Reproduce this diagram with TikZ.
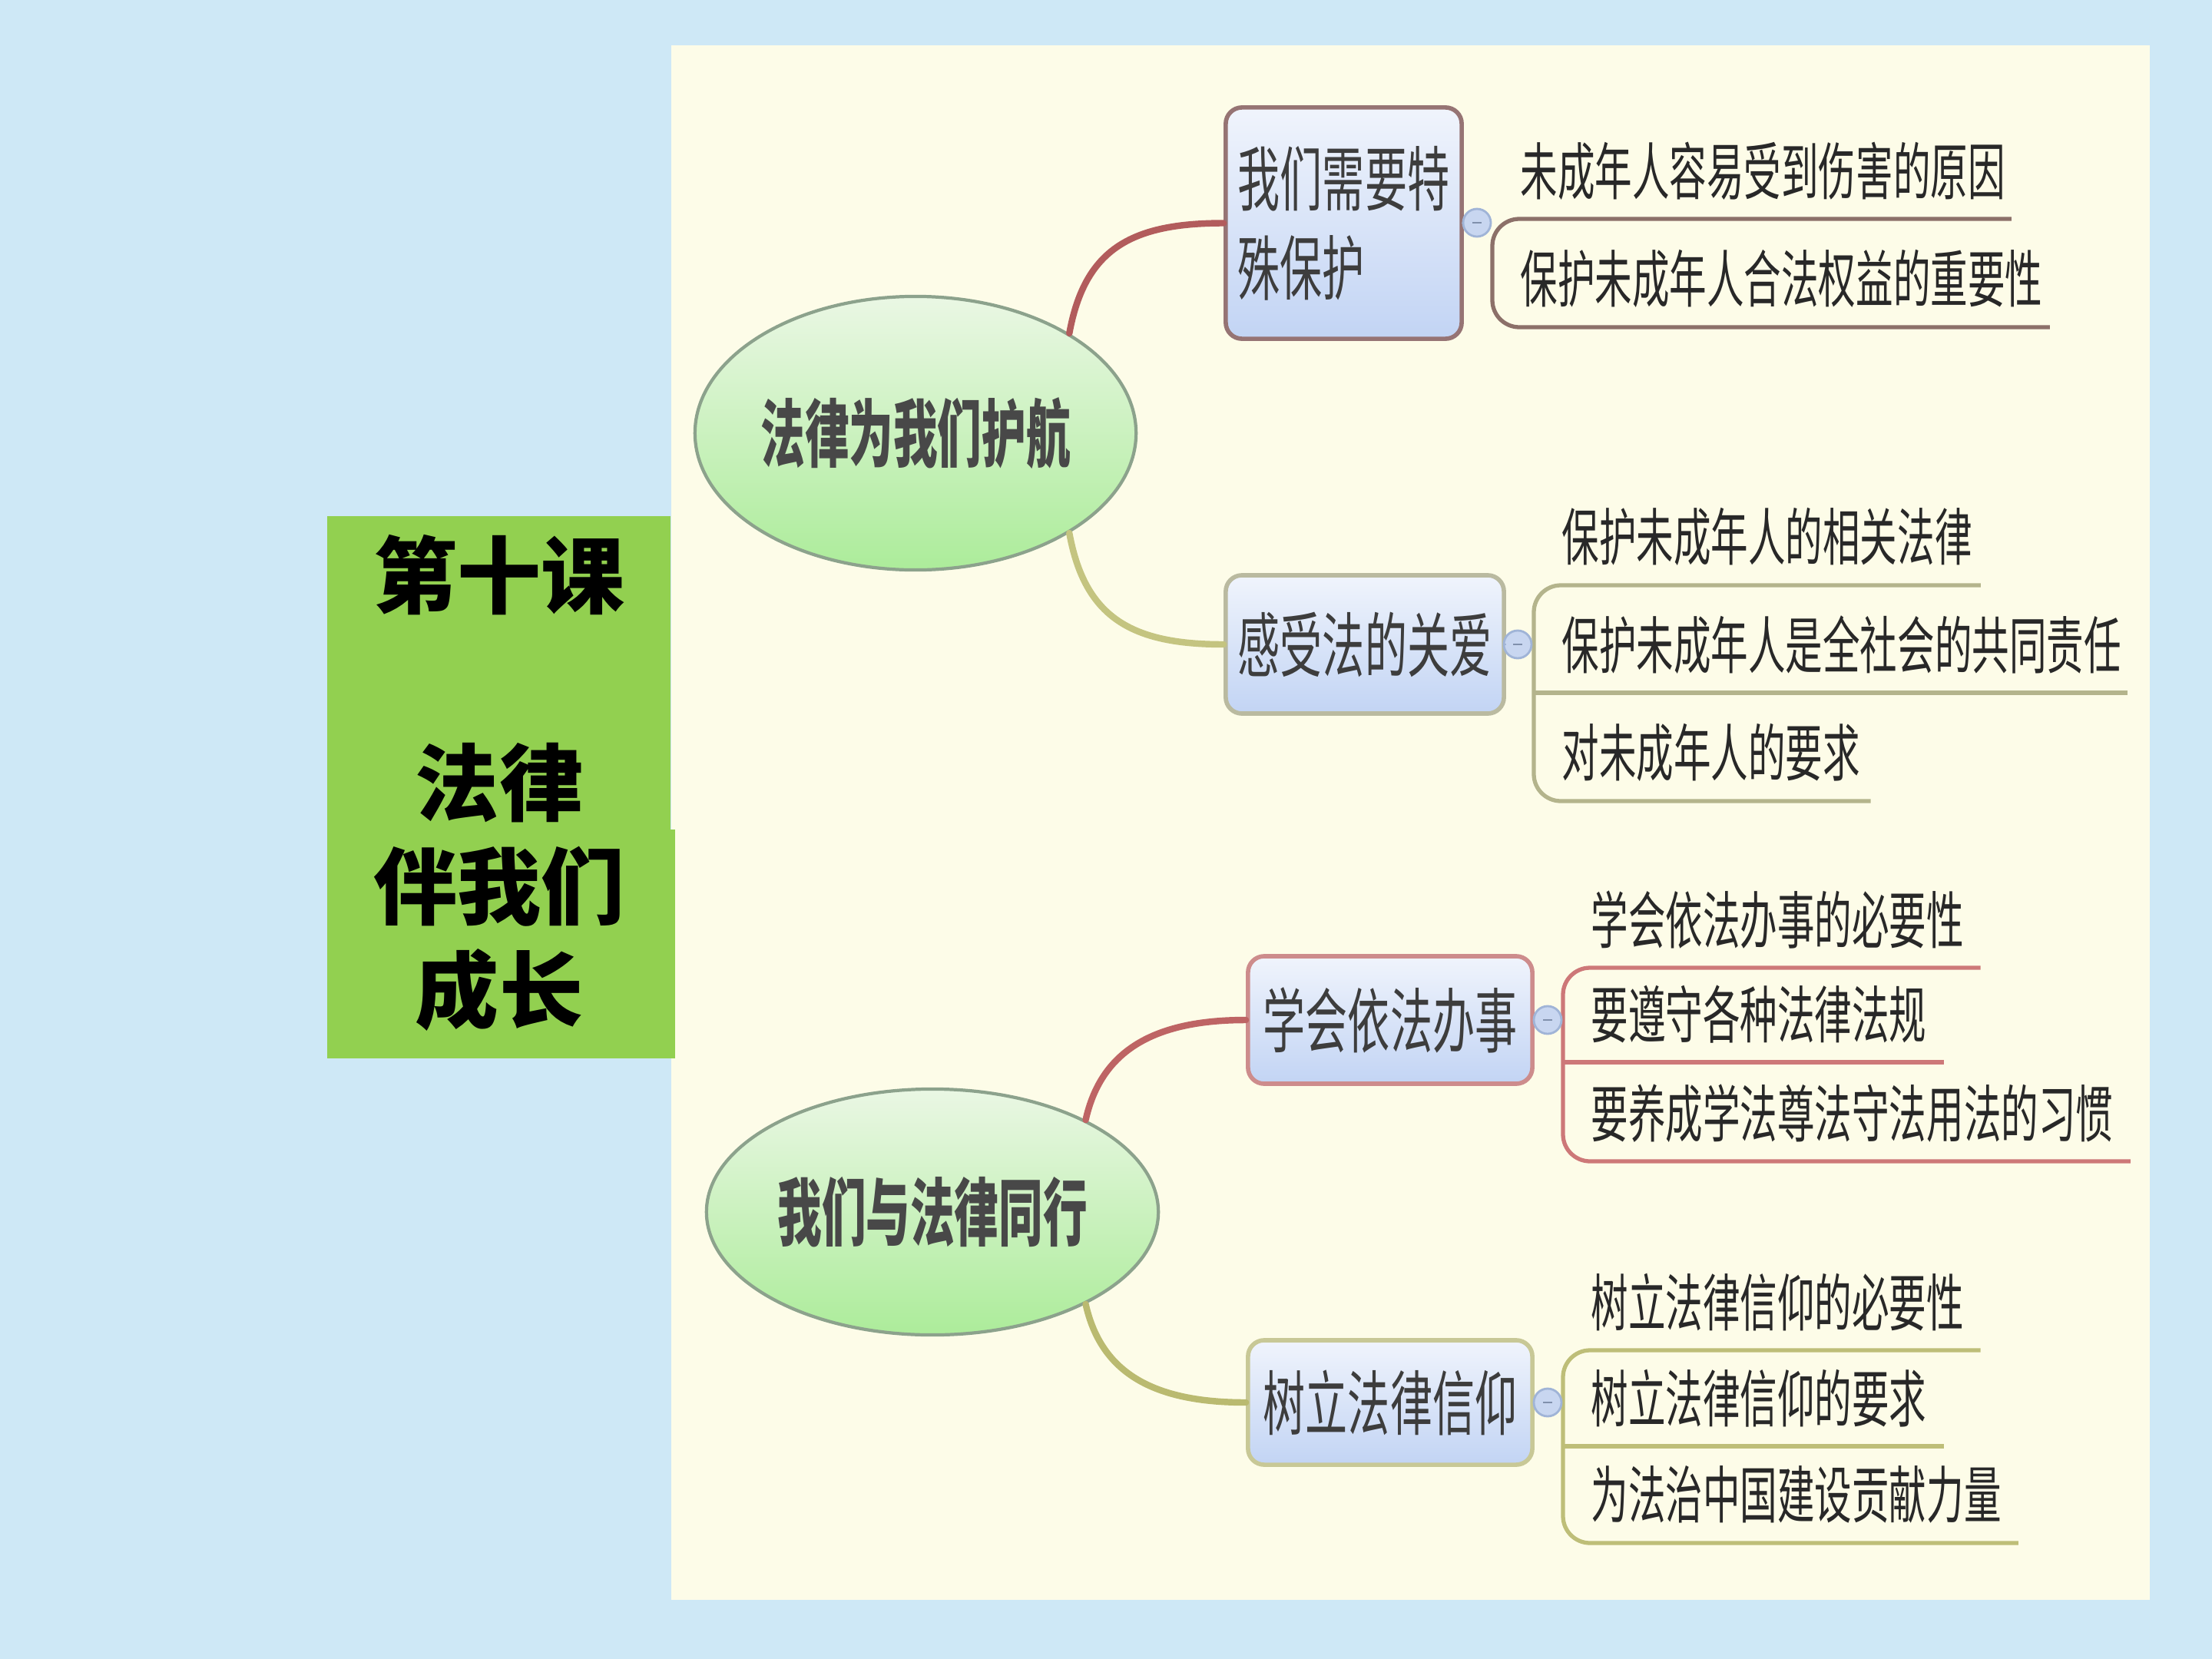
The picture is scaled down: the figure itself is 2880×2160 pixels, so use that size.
\documentclass[tikz,border=0pt]{standalone}
\usepackage{fontspec}
\newfontfamily\cjk[FakeStretch=0.6]{Noto Sans CJK SC}
\newfontfamily\cjktitle{Noto Sans CJK SC}
\usetikzlibrary{shapes.geometric}
\definecolor{bg}{RGB}{206,232,246}
\definecolor{panel}{RGB}{253,252,232}
\definecolor{titlegreen}{RGB}{146,208,80}
\definecolor{elltop}{RGB}{234,247,228}
\definecolor{ellbot}{RGB}{172,236,154}
\definecolor{ellline}{RGB}{140,162,140}
\definecolor{boxtop}{RGB}{240,244,252}
\definecolor{boxbot}{RGB}{194,212,244}
\definecolor{conA}{RGB}{178,92,92}
\definecolor{conB}{RGB}{196,196,128}
\definecolor{conC}{RGB}{190,100,100}
\definecolor{conD}{RGB}{186,186,112}
\definecolor{ulA}{RGB}{140,112,105}
\definecolor{ulB}{RGB}{180,180,140}
\definecolor{ulC}{RGB}{205,120,120}
\definecolor{ulD}{RGB}{190,190,120}
\definecolor{bxA}{RGB}{150,116,116}
\definecolor{bxB}{RGB}{186,186,160}
\definecolor{bxC}{RGB}{205,140,140}
\definecolor{bxD}{RGB}{200,200,150}
\definecolor{txt}{RGB}{40,40,40}
\definecolor{mk}{RGB}{200,214,240}
\definecolor{mkline}{RGB}{160,180,215}
\tikzset{
  ell/.style={ellipse, draw=ellline, line width=1.2pt, top color=elltop, bottom color=ellbot,
    font=\cjk\bfseries\fontsize{27.3}{32}\selectfont, text=txt!85, inner sep=0pt},
  topic/.style={rectangle, rounded corners=6pt, line width=1.6pt, top color=boxtop, bottom color=boxbot,
    font=\cjk\fontsize{26.1}{33}\selectfont, text=txt!90, align=left, inner sep=0pt},
  leaf/.style={anchor=south west, inner xsep=0.36cm, inner ysep=0pt, minimum height=1.24cm,
    text width=#1, align=left, font=\cjk\fontsize{23}{28}\selectfont, text=txt},
  conn/.style={line width=2.4pt, line cap=round},
  uline/.style={line width=1.5pt, rounded corners=10pt},
  marker/.style={circle, minimum size=0.36cm, inner sep=0pt, fill=mk, draw=mkline, line width=0.8pt},
}
\begin{document}
\begin{tikzpicture}[x=0.01cm,y=-0.01cm]
\useasboundingbox (0,0) rectangle (2880,2160);
\fill[bg] (0,0) rectangle (2880,2160);
\fill[panel] (874,59) rectangle (2799,2083);
% title box
\fill[titlegreen] (426,672) rectangle (873,1378);
\fill[titlegreen] (873,1080) rectangle (879,1378);
\node[font=\cjktitle\bfseries\fontsize{31}{38.4}\selectfont, align=center, text=black] (title) at (650,1019)
  {第十课\\~\\法律\\伴我们\\成长};

% central ellipses
\node[ell, minimum width=5.74cm, minimum height=3.56cm] (e1) at (1192,564) {法律为我们护航};
\node[ell, minimum width=5.88cm, minimum height=3.20cm] (e2) at (1214,1578) {我们与法律同行};

% topic boxes
\node[topic, draw=bxA, minimum width=3.07cm, minimum height=3.01cm] (b1) at (1749.5,290.5) {我们需要特\\殊保护};
\node[topic, draw=bxB, minimum width=3.62cm, minimum height=1.80cm] (b2) at (1777,839) {感受法的关爱};
\node[topic, draw=bxC, minimum width=3.70cm, minimum height=1.66cm] (b3) at (1810,1328) {学会依法办事};
\node[topic, draw=bxD, minimum width=3.70cm, minimum height=1.62cm] (b4) at (1810,1826) {树立法律信仰};

% connectors
\draw[conn, conA] (e1.33) .. controls +(20,-110) and +(-120,0) .. (b1.west);
\draw[conn, conB] (e1.-33) .. controls +(20,110) and +(-120,0) .. (b2.west);
\draw[conn, conC] (e2.31) .. controls +(20,-90) and +(-120,0) .. (b3.west);
\draw[conn, conD] (e2.-31) .. controls +(20,90) and +(-120,0) .. (b4.west);

% leaves group 1
\node[leaf=6.02cm] (l11) at (1943,285) {\mbox{未成年人容易受到伤害的原因}};
\node[leaf=6.52cm] (l12) at (1943,426) {\mbox{保护未成年人合法权益的重要性}};
\draw[uline, ulA] (l11.south east) -- (l11.south west) -- (l12.south west) -- (l12.south east);
% leaves group 2
\node[leaf=5.08cm] (l21) at (1997,762) {\mbox{保护未成年人的相关法律}};
\node[leaf=6.99cm] (l22) at (1997,902) {\mbox{保护未成年人是全社会的共同责任}};
\node[leaf=3.65cm] (l23) at (1997,1043) {\mbox{对未成年人的要求}};
\draw[uline, ulB] (l21.south east) -- (l21.south west) -- (l23.south west) -- (l23.south east);
\draw[uline, ulB] (l22.south west) -- (l22.south east);
% leaves group 3
\node[leaf=4.70cm] (l31) at (2035,1260) {\mbox{学会依法办事的必要性}};
\node[leaf=4.22cm] (l32) at (2035,1383) {\mbox{要遵守各种法律法规}};
\node[leaf=6.65cm] (l33) at (2035,1512) {\mbox{要养成学法尊法守法用法的习惯}};
\draw[uline, ulC] (l31.south east) -- (l31.south west) -- (l33.south west) -- (l33.south east);
\draw[uline, ulC] (l32.south west) -- (l32.south east);
% leaves group 4
\node[leaf=4.70cm] (l41) at (2035,1758) {\mbox{树立法律信仰的必要性}};
\node[leaf=4.22cm] (l42) at (2035,1883) {\mbox{树立法律信仰的要求}};
\node[leaf=5.19cm] (l43) at (2035,2009) {\mbox{为法治中国建设贡献力量}};
\draw[uline, ulD] (l41.south east) -- (l41.south west) -- (l43.south west) -- (l43.south east);
\draw[uline, ulD] (l42.south west) -- (l42.south east);

% collapse markers
\node[marker] (m1) at (1923,290) {};
\node[marker] (m2) at (1976,839) {};
\node[marker] (m3) at (2015,1328) {};
\node[marker] (m4) at (2015,1826) {};
\foreach \m in {m1,m2,m3,m4}{
  \draw[mkline!80!black, line width=0.8pt] ([xshift=-0.06cm]\m.center) -- ([xshift=0.06cm]\m.center);
}
\draw[mkline, line width=0.8pt] (b1.east) -- (m1.west);
\draw[mkline, line width=0.8pt] (b2.east) -- (m2.west);
\draw[mkline, line width=0.8pt] (b3.east) -- (m3.west);
\draw[mkline, line width=0.8pt] (b4.east) -- (m4.west);
\end{tikzpicture}
\end{document}
